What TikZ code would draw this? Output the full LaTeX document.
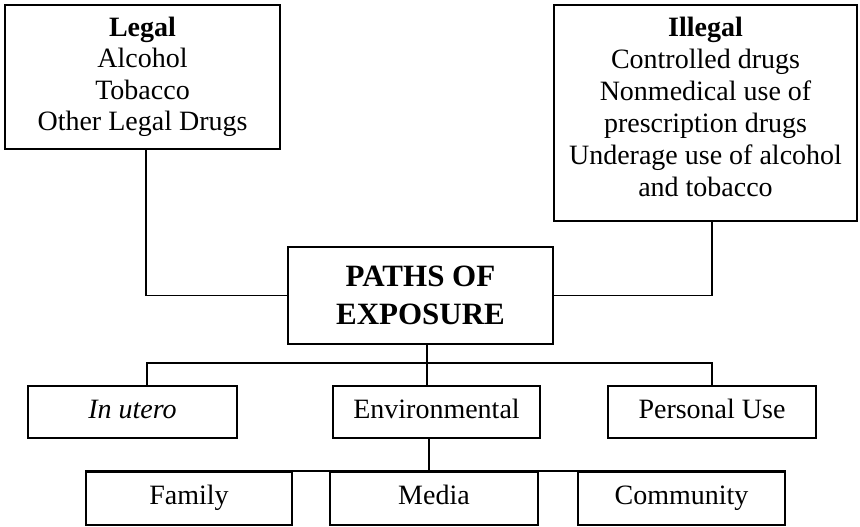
\documentclass[tikz,border=0pt]{standalone}
\usepackage{fontspec}
\setmainfont{Liberation Serif}
\begin{document}
\begin{tikzpicture}[x=1pt,y=-1pt,
  box/.style={draw, line width=1.9pt, inner sep=0pt, align=center,
    font=\fontsize{28}{31.5}\selectfont},
  single/.style={box, text height=20pt, text depth=8pt},
  plain/.style={inner sep=0pt, align=center, font=\fontsize{28}{32}\selectfont},
  link/.style={line width=1.9pt}]
\useasboundingbox (0,0) rectangle (860,527);
\fill[white] (0,0) rectangle (860,527);
\node[box, minimum width=275pt, minimum height=144pt] (legal) at (142.5,77)
  {\textbf{Legal}\\Alcohol\\Tobacco\\Other Legal Drugs};
\node[box, minimum width=303pt, minimum height=216pt] (illegal) at (705.5,113) {};
\node[plain] (illegaltext) at (705.5,106.5)
  {\textbf{Illegal}\\Controlled drugs\\Nonmedical use of\\prescription drugs\\Underage use of alcohol\\and tobacco};
\node[box, minimum width=265pt, minimum height=97pt, font=\fontsize{31}{38}\selectfont\bfseries] (paths) at (420.5,295.5)
  {PATHS OF\\EXPOSURE};
\node[single, minimum width=209pt, minimum height=52pt] (utero) at (132.5,412) {\textit{In utero}};
\node[single, minimum width=207pt, minimum height=52pt] (env) at (436.5,412) {Environmental};
\node[single, minimum width=208pt, minimum height=52pt] (pers) at (712,412) {Personal Use};
\node[single, minimum width=206pt, minimum height=53pt] (fam) at (189,498.5) {Family};
\node[single, minimum width=208pt, minimum height=53pt] (media) at (434,498.5) {Media};
\node[single, minimum width=207pt, minimum height=53pt] (com) at (681.5,498.5) {Community};
\coordinate (busL) at (147,363);
\coordinate (busC) at (427,363);
\coordinate (busR) at (712,363);
\coordinate (bus2) at (429,472);
\draw[link] ([xshift=3.5pt]legal.south) |- (paths.west);
\draw[link] ([xshift=6.5pt]illegal.south) |- (paths.east);
\draw[link] (paths.south -| busC) -- (env.north -| busC);
\draw[link] (utero.north -| busL) |- (busR) -- (pers.north -| busR);
\draw[link] (env.south -| bus2) -- (bus2);
\draw[link] (fam.north west) -- (com.north east);
\end{tikzpicture}
\end{document}
